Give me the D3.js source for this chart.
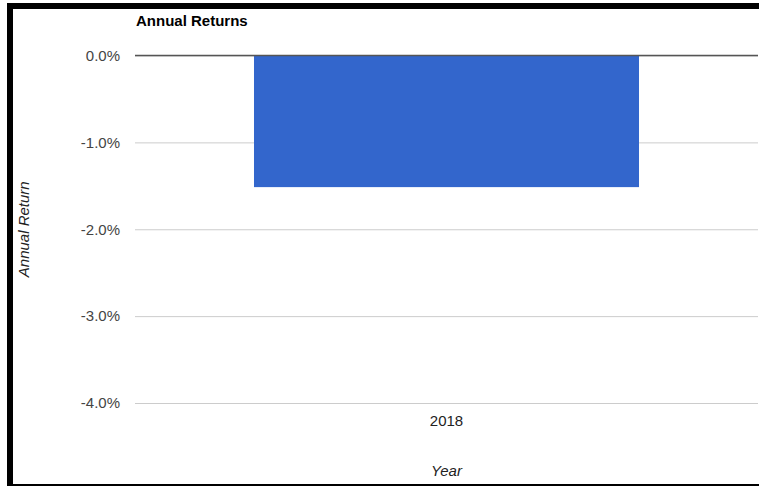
<!DOCTYPE html>
<html>
<head>
<meta charset="utf-8">
<script src="https://cdn.jsdelivr.net/npm/d3@7/dist/d3.min.js"></script>
<style>
  html, body { margin: 0; padding: 0; background: #fff; }
  svg { display: block; }
  text { font-family: Arial, "Liberation Sans", Helvetica, sans-serif; }
</style>
</head>
<body>
<svg id="chart" width="759" height="486"></svg>
<script>
const categories = ["2018"];
const annualReturns = [-1.515];
const yTicks = [0, -1, -2, -3, -4];
const chartTitle = "Annual Returns";
const xTitle = "Year";
const yTitle = "Annual Return";

(function () {
const W = 759, H = 486;
const svg = d3.select("#chart");

// frame borders
svg.append("rect").attr("x", 0).attr("y", 0).attr("width", W).attr("height", H).attr("fill", "#fff");
svg.append("rect").attr("x", 7).attr("y", 3).attr("width", W - 7).attr("height", 6).attr("fill", "#000");
svg.append("rect").attr("x", 7).attr("y", 3).attr("width", 6).attr("height", H - 3).attr("fill", "#000");
svg.append("rect").attr("x", 7).attr("y", 484).attr("width", W - 7).attr("height", 2).attr("fill", "#000");

const pLeft = 135, pRight = 758, pTop = 55.5, pBottom = 403;

const y = d3.scaleLinear().domain([0, -4]).range([pTop, pBottom]);
const x = d3.scaleBand().domain(categories).range([pLeft, pRight])
  .paddingInner(0.382).paddingOuter(0.191);

// gridlines via axis
const yAxis = d3.axisLeft(y).tickValues(yTicks).tickSize(-(pRight - pLeft))
  .tickFormat(d => d.toFixed(1).replace("\u2212", "-") + "%").tickPadding(15);
const gy = svg.append("g").attr("transform", `translate(${pLeft},0)`).call(yAxis);
gy.select(".domain").remove();
gy.selectAll(".tick line").attr("stroke", "#cccccc").attr("stroke-width", 1);
gy.selectAll(".tick text").attr("fill", "#444").attr("font-size", 15)
  .attr("font-family", "Arial, 'Liberation Sans', Helvetica, sans-serif");

// bars
svg.append("g").selectAll("rect").data(annualReturns).join("rect")
  .attr("x", (d, i) => x(categories[i]))
  .attr("width", x.bandwidth())
  .attr("y", d => y(Math.max(0, d)))
  .attr("height", d => Math.abs(y(d) - y(0)))
  .attr("fill", "#3366cc");

// zero baseline
svg.append("line").attr("x1", pLeft).attr("x2", pRight)
  .attr("y1", y(0)).attr("y2", y(0)).attr("stroke", "#555").attr("stroke-width", 1.5);

// x axis labels
const xAxis = d3.axisBottom(x).tickSize(0).tickPadding(0);
const gx = svg.append("g").attr("transform", `translate(0,${pBottom + 12})`).call(xAxis);
gx.select(".domain").remove();
gx.selectAll(".tick text").attr("fill", "#222").attr("font-size", 15)
  .attr("font-family", "Arial, 'Liberation Sans', Helvetica, sans-serif");

// titles
svg.append("text").attr("x", 136).attr("y", 26).attr("font-size", 15)
  .attr("font-weight", "bold").attr("fill", "#000").text(chartTitle);
svg.append("text").attr("x", (pLeft + pRight) / 2).attr("y", 476)
  .attr("text-anchor", "middle").attr("font-size", 15).attr("font-style", "italic")
  .attr("fill", "#222").text(xTitle);
svg.append("text").attr("transform", `translate(29,${(pTop + pBottom) / 2}) rotate(-90)`)
  .attr("text-anchor", "middle").attr("font-size", 15).attr("font-style", "italic")
  .attr("fill", "#222").text(yTitle);
})();
</script>
</body>
</html>
